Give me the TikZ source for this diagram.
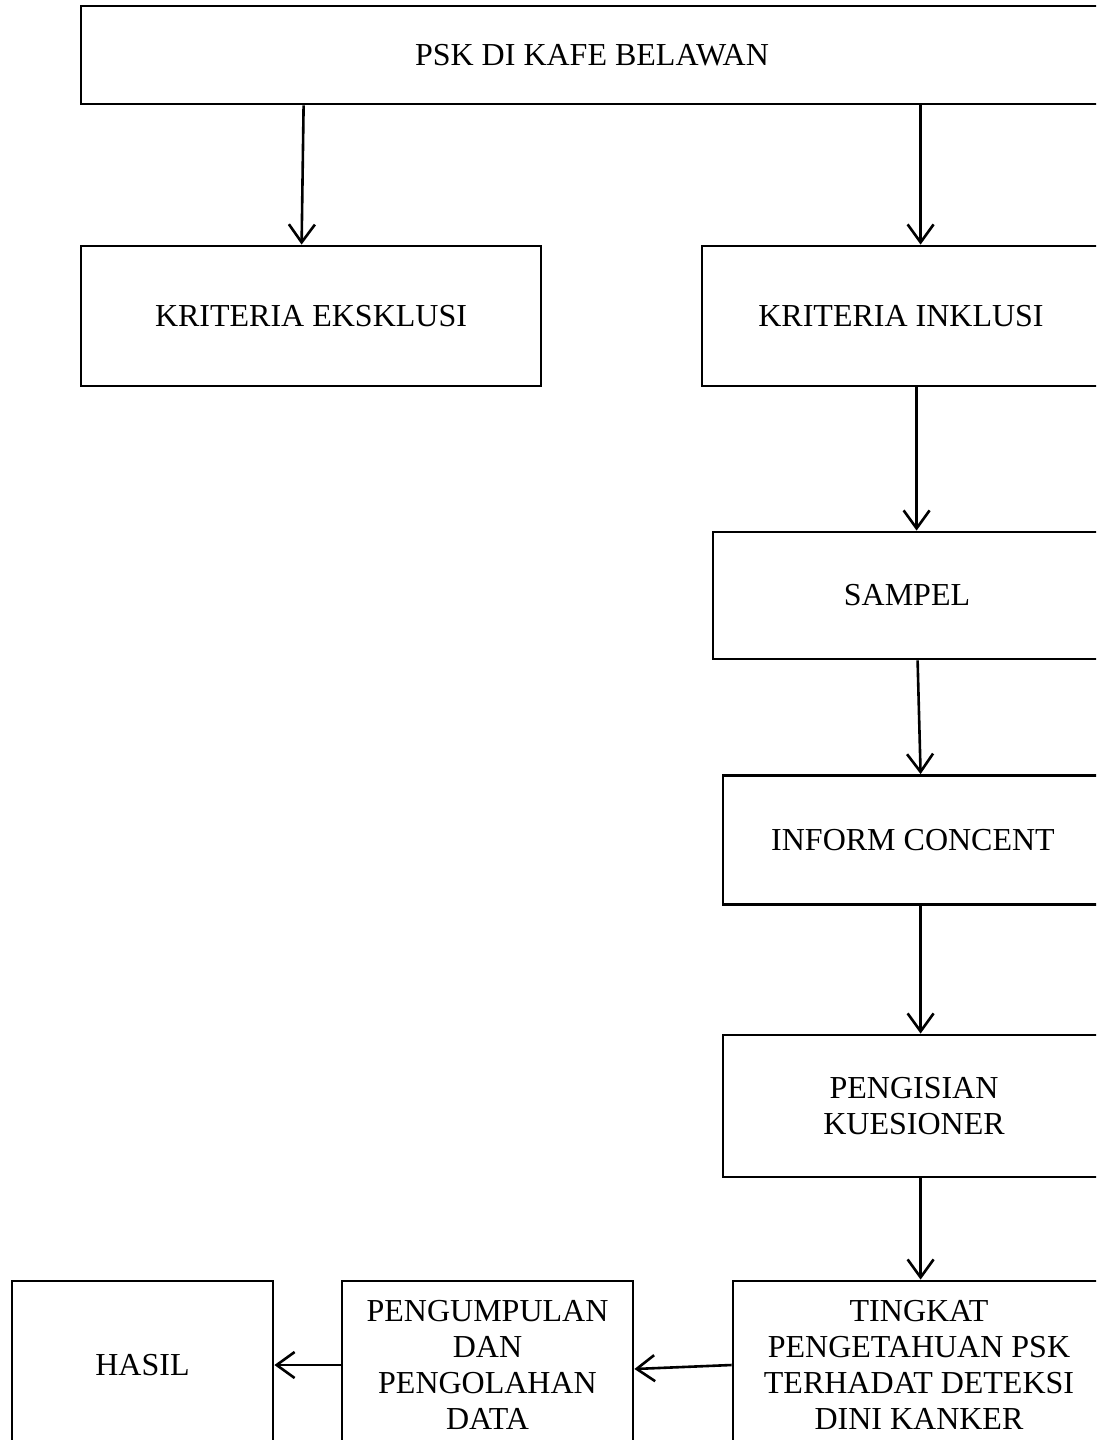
\documentclass[tikz,border=0pt]{standalone}
\usepackage{fontspec}
\setmainfont{Liberation Serif}
\usetikzlibrary{arrows.meta}
\begin{document}
\begin{tikzpicture}[x=1pt,y=-1pt,
  box/.style={draw=black, line width=2.8pt, rectangle, inner sep=0pt, align=center,
    font=\fontsize{32}{36}\selectfont},
  arr/.style={line width=2.6pt, -{Straight Barb[length=18pt,width=26pt,line width=2.6pt]}}]
\useasboundingbox (0,0) rectangle (1096,1440);
\fill[white] (0,0) rectangle (1096,1440);
\clip (0,0) rectangle (1096,1440);
\node[box, minimum width=1022pt, minimum height=98pt] (top) at (592,55) {PSK DI KAFE BELAWAN};
\node[box, minimum width=460pt, minimum height=140pt] (eks) at (311,316) {KRITERIA EKSKLUSI};
\node[box, minimum width=398pt, minimum height=140pt] (ink) at (901,316) {KRITERIA INKLUSI};
\node[box, minimum width=388pt, minimum height=127pt] (sam) at (907,595.5) {SAMPEL};
\node[box, minimum width=380pt, minimum height=129pt] (inf) at (913,840) {INFORM CONCENT};
\node[box, minimum width=382pt, minimum height=142pt] (pen) at (914,1106) {PENGISIAN\\KUESIONER};
\node[box, minimum width=372pt, minimum height=168pt] (tin) at (919,1365) {TINGKAT\\PENGETAHUAN PSK\\TERHADAT DETEKSI\\DINI KANKER};
\node[box, minimum width=291pt, minimum height=168pt] (pgl) at (487.5,1365) {PENGUMPULAN\\DAN\\PENGOLAHAN\\DATA};
\node[box, minimum width=261pt, minimum height=168pt] (has) at (142.5,1365) {HASIL};
\draw[arr] ([xshift=224pt]top.south west) -- ([xshift=222pt]eks.north west);
\draw[arr] ([xshift=841pt]top.south west) -- ([xshift=220pt]ink.north west);
\draw[arr] ([xshift=216pt]ink.south west) -- ([xshift=205pt]sam.north west);
\draw[arr] ([xshift=206pt]sam.south west) -- ([xshift=199pt]inf.north west);
\draw[arr] ([xshift=199pt]inf.south west) -- ([xshift=199pt]pen.north west);
\draw[arr] ([xshift=199pt]pen.south west) -- ([xshift=189pt]tin.north west);
\draw[arr] (tin.west) -- ([yshift=-4pt]pgl.east);
\draw[arr] (pgl.west) -- (has.east);
\end{tikzpicture}
\end{document}
